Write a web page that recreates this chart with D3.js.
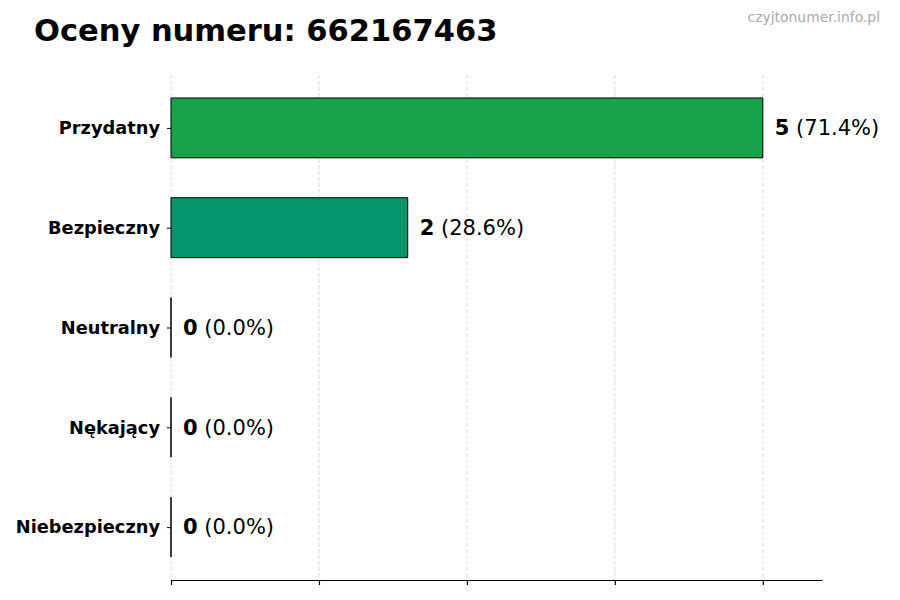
<!DOCTYPE html>
<html><head><meta charset="utf-8">
<script src="https://cdn.jsdelivr.net/npm/d3@7"></script>
<style>body{margin:0;background:#fff}svg{font-family:"DejaVu Sans",sans-serif}</style>
</head><body><svg id="c" width="900" height="600"></svg>
<script>
const categories = ["Przydatny","Bezpieczny","Neutralny","Nękający","Niebezpieczny"];
const counts = [5,2,0,0,0];
const percents = ["71.4%","28.6%","0.0%","0.0%","0.0%"];
const colors = ["#17a34a","#05976a","#6b7280","#f97316","#dc2626"];
const xTicks = [0,1.25,2.5,3.75,5];

const svg = d3.select("#c");
const x = d3.scaleLinear().domain([0,5.5]).range([171,822]);
const y = d3.scaleLinear().domain([-0.53,4.53]).range([75,580]);
const bh = y(0.3)-y(-0.3);

svg.append("text").attr("x",34).attr("y",41).attr("font-size",30.5).attr("font-weight","bold").text("Oceny numeru: 662167463");
svg.append("text").attr("x",880).attr("y",22).attr("text-anchor","end").attr("font-size",13.9).attr("fill","#aaaaaa").text("czyjtonumer.info.pl");

svg.append("g").selectAll("line").data(xTicks).join("line")
  .attr("x1",d=>x(d)).attr("x2",d=>x(d)).attr("y1",75).attr("y2",580)
  .attr("stroke","#d0d0d0").attr("stroke-width",0.8).attr("stroke-dasharray","4,2");

svg.append("g").selectAll("path").data(counts).join("path")
  .attr("d",(d,i)=>{const p=d3.path(); p.rect(x(0),y(i)-bh/2,x(d)-x(0),bh); return p.toString();})
  .attr("fill",(d,i)=>colors[i]).attr("stroke","#000").attr("stroke-width",1);

const xa = svg.append("g").attr("transform","translate(0,580)")
  .call(d3.axisBottom(x).tickValues(xTicks).tickSize(5).tickSizeOuter(0).tickFormat(""));
xa.select(".domain").attr("stroke","#000").attr("stroke-width",1.2);
xa.selectAll(".tick line").attr("stroke","#000").attr("stroke-width",1.2);

const ya = svg.append("g").attr("transform","translate(171,0)")
  .call(d3.axisLeft(y).tickValues(d3.range(categories.length)).tickSize(4).tickPadding(7).tickFormat(i=>categories[i]));
ya.select(".domain").remove();
ya.selectAll(".tick line").attr("stroke","#000");
ya.selectAll(".tick text").attr("font-size",17.8).attr("font-weight","bold").attr("fill","#000").attr("font-family","DejaVu Sans");

const lab = svg.append("g").selectAll("text").data(counts).join("text")
  .attr("x",d=>x(d)+12).attr("y",(d,i)=>y(i)).attr("dy","0.35em").attr("font-size",21);
lab.append("tspan").attr("font-weight","bold").text(d=>d);
lab.append("tspan").text((d,i)=>" ("+percents[i]+")");
</script></body></html>
